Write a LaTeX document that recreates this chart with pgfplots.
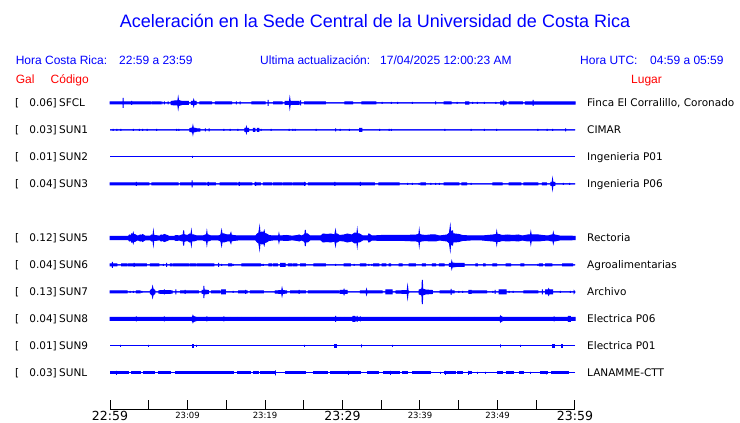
\documentclass[border=0pt]{standalone}
\usepackage{pgfplots}
\pgfplotsset{compat=1.18}
\usepgfplotslibrary{fillbetween}
\usepackage{pgfplotstable}
\usepackage{fontspec}
\setmainfont{Liberation Sans}
\newfontfamily\dv{DejaVu Sans}
\definecolor{sblue}{RGB}{0,0,255}
\definecolor{sred}{RGB}{255,0,0}

% time in minutes after 22:59, a = half amplitude of trace envelope (px)
\pgfplotstableread[row sep=\\]{t a\\ 0 0\\ 0 1\\ 1.7 1\\ 1.7 5\\ 1.7 1\\ 2.8 1\\ 2.8 2\\ 2.8 1\\ 5.2 1\\ 5.2 0\\
5.4 0\\ 5.4 1\\ 6.5 1\\ 6.5 0\\ 6.7 0\\ 6.7 1.5\\ 6.7 0\\ 7.0 0\\ 7.0 1.5\\ 7.0 0\\ 7.5 0\\ 7.5 1.5\\ 7.5 0\\
7.9 0\\ 7.9 1.5\\ 8.3 2\\ 8.75 2\\ 8.8 5\\ 8.85 2.5\\ 9.3 1.5\\ 10.1 1.5\\ 10.1 0\\ 10.5 0\\ 10.5 1.5\\ 10.75 1.5\\ 10.8 3\\ 10.85 1.5\\ 11.1 1.5\\ 11.1 0\\
11.6 0\\ 11.6 1\\ 13.1 1\\ 13.1 0\\ 13.6 0\\ 13.6 1\\ 15.7 1\\ 15.7 0\\ 16.3 0\\ 16.3 1.5\\ 16.3 0\\ 16.8 0\\ 16.8 1.5\\ 16.8 0\\
18.3 0\\ 18.3 1\\ 20.0 1\\ 20.0 0\\ 20.4 0\\ 20.4 3\\ 20.4 0\\ 21.1 0\\ 21.1 1\\ 22.2 1\\ 22.2 0\\
22.6 0\\ 22.6 1.5\\ 23.15 1.5\\ 23.2 4.5\\ 23.25 1.5\\ 24.4 1.5\\ 24.4 0\\ 24.6 0\\ 24.6 2.5\\ 24.6 0\\ 25.1 0\\ 25.1 1\\ 27.8 1\\ 27.8 0\\
30.3 0\\ 30.3 1\\ 31.3 1\\ 31.3 0\\ 32.5 0\\ 32.5 1\\ 34.3 1\\ 34.3 0\\
35.1 0\\ 35.1 1\\ 35.1 0\\ 36.3 0\\ 36.3 1\\ 36.3 0\\ 37.1 0\\ 37.1 1\\ 37.1 0\\ 39.0 0\\ 39.0 1\\ 39.0 0\\ 42.0 0\\ 42.0 1.5\\ 42.0 0\\
43.1 0\\ 43.1 1\\ 44.0 1\\ 44.0 0\\ 44.8 0\\ 44.8 1\\ 44.8 0\\ 45.9 0\\ 45.9 1.2\\ 46.3 1.2\\ 46.3 0\\ 46.8 0\\ 46.8 1\\ 46.8 0\\
47.4 0\\ 47.4 1\\ 47.4 0\\ 48.3 0\\ 48.3 1\\ 48.3 0\\ 49.8 0\\ 49.8 1\\ 49.8 0\\ 50.4 0\\ 50.4 1.2\\ 50.75 1.2\\ 50.8 2\\ 50.85 1.2\\ 51.1 1.2\\ 51.1 0\\
51.5 0\\ 51.5 1\\ 53.2 1\\ 53.2 0\\ 53.6 0\\ 53.6 1.2\\ 54.6 1.2\\ 54.6 3\\ 54.6 1.2\\ 60 1.2\\ 60 0\\}\sfcl

\pgfplotstableread[row sep=\\]{t a\\ 0 0\\ 0.4 0\\ 0.4 1\\ 0.4 0\\ 0.9 0\\ 0.9 1\\ 0.9 0\\ 1.4 0\\ 1.4 1\\ 1.4 0\\ 3.0 0\\ 3.0 1\\ 3.0 0\\
3.8 0\\ 3.8 1\\ 3.8 0\\ 4.2 0\\ 4.2 1\\ 4.2 0\\ 4.8 0\\ 4.8 1\\ 4.8 0\\ 6.0 0\\ 6.0 1\\ 6.0 0\\ 8.6 0\\ 8.6 1\\ 8.6 0\\ 8.9 0\\ 8.9 1\\ 8.9 0\\
10.3 0\\ 10.3 1.5\\ 10.65 2\\ 10.7 4\\ 10.75 2\\ 11.1 1.5\\ 11.1 0\\ 11.2 0\\ 11.2 1.2\\ 11.6 1.2\\ 11.6 0\\ 12.3 0\\ 12.3 1.5\\ 12.3 0\\
12.8 0\\ 12.8 1.5\\ 12.8 0\\ 14.7 0\\ 14.7 1\\ 14.7 0\\ 15.5 0\\ 15.5 1\\ 15.5 0\\ 16.5 0\\ 16.5 1\\ 16.5 0\\
17.4 0\\ 17.4 1.5\\ 17.55 1.5\\ 17.6 3\\ 17.65 1.5\\ 17.9 1.5\\ 17.9 0\\ 18.5 0\\ 18.5 1.5\\ 18.7 1.5\\ 18.7 0\\ 19.0 0\\ 19.0 1.5\\ 19.2 1.5\\ 19.2 0\\
19.5 0\\ 19.5 1\\ 19.5 0\\ 20.8 0\\ 20.8 1\\ 20.8 0\\ 23.1 0\\ 23.1 1\\ 23.1 0\\ 23.6 0\\ 23.6 1\\ 23.6 0\\ 23.9 0\\ 23.9 1\\ 23.9 0\\
26.6 0\\ 26.6 1\\ 26.6 0\\ 29.1 0\\ 29.1 1.5\\ 29.1 0\\ 29.7 0\\ 29.7 1\\ 29.7 0\\ 30.9 0\\ 30.9 1\\ 30.9 0\\ 32.2 0\\ 32.2 1.5\\ 32.5 1.5\\ 32.5 0\\
34.8 0\\ 34.8 1\\ 34.8 0\\ 36.0 0\\ 36.0 1\\ 36.0 0\\ 36.3 0\\ 36.3 1\\ 36.3 0\\ 43.2 0\\ 43.2 1\\ 43.2 0\\ 46.6 0\\ 46.6 1\\ 46.6 0\\
48.3 0\\ 48.3 1\\ 48.3 0\\ 49.9 0\\ 49.9 1\\ 49.9 0\\ 55.2 0\\ 55.2 1\\ 55.2 0\\ 56.4 0\\ 56.4 1\\ 56.4 0\\ 57.1 0\\ 57.1 1\\ 57.1 0\\
58.8 0\\ 58.8 1.5\\ 58.8 0\\ 60 0\\}\sunone

\pgfplotstableread[row sep=\\]{t a\\ 0 0\\ 10.6 0\\ 10.6 1\\ 10.6 0\\ 60 0\\}\suntwo

\pgfplotstableread[row sep=\\]{t a\\ 0 0\\ 0 1\\ 3.4 1\\ 3.4 2\\ 3.4 1\\ 5.0 1\\ 5.0 0\\ 5.4 0\\ 5.4 1\\ 8.8 1\\ 8.8 0\\ 9.1 0\\ 9.1 1\\ 10.6 1\\ 10.6 3.5\\ 10.6 1\\
12.3 1\\ 12.3 0\\ 12.5 0\\ 12.5 1\\ 12.7 1\\ 12.7 2\\ 12.7 1\\ 13.6 1\\ 13.6 0\\ 14.2 0\\ 14.2 1\\ 16.4 1\\ 16.4 0\\ 16.6 0\\ 16.6 1\\ 16.7 1\\ 16.7 2\\ 16.7 1\\
18.3 1\\ 18.3 0\\ 18.7 0\\ 18.7 1\\ 18.8 1\\ 18.8 2\\ 18.8 1\\ 19.4 1\\ 19.4 0\\ 19.8 0\\ 19.8 1\\ 20.9 1\\ 20.9 0\\ 21.1 0\\ 21.1 1\\ 22.2 1\\ 22.2 0\\
22.4 0\\ 22.4 1\\ 23.5 1\\ 23.5 0\\ 23.7 0\\ 23.7 1\\ 25.1 1\\ 25.1 2\\ 25.1 1\\ 25.2 1\\ 25.2 0\\ 25.6 0\\ 25.6 1\\ 29.0 1\\ 29.0 2\\ 29.0 1\\
32.1 1\\ 32.1 0\\ 32.2 0\\ 32.2 1\\ 32.3 1\\ 32.3 2\\ 32.3 1\\ 34.1 1\\ 34.1 0\\ 34.7 0\\ 34.7 1\\ 37.3 1\\ 37.3 0\\ 38.4 0\\ 38.4 1\\ 38.4 0\\
39.0 0\\ 39.0 1\\ 39.0 0\\ 39.9 0\\ 39.9 1\\ 39.9 0\\ 40.1 0\\ 40.1 1\\ 40.7 1\\ 40.7 0\\ 41.4 0\\ 41.4 1\\ 41.4 0\\ 42.0 0\\ 42.0 1\\ 42.0 0\\
42.5 0\\ 42.5 1\\ 42.5 0\\ 43.1 0\\ 43.1 1\\ 45.0 1\\ 45.0 0\\ 45.4 0\\ 45.4 1\\ 46.0 1\\ 46.0 0\\ 46.6 0\\ 46.6 1\\ 46.6 0\\
49.4 0\\ 49.4 1\\ 50.6 1\\ 50.6 0\\ 51.5 0\\ 51.5 1\\ 53.0 1\\ 53.0 0\\ 53.4 0\\ 53.4 1\\ 55.2 1\\ 55.2 0\\ 55.8 0\\ 55.8 1\\ 56.3 1\\ 56.3 0\\
56.9 0\\ 56.9 1.5\\ 57.05 1.5\\ 57.1 4.5\\ 57.15 1.5\\ 57.4 1.5\\ 57.4 0\\ 58.5 0\\ 58.5 1\\ 58.5 0\\ 59.3 0\\ 59.3 1\\ 59.3 0\\ 60 0\\}\sunthree

\pgfplotstableread[row sep=\\]{t a\\ 0 0\\ 0 1.7\\ 2.4 1.7\\ 2.5 3\\ 2.7 2.5\\ 2.8 4\\ 2.9 3\\ 3.0 5\\ 3.05 3\\ 3.2 3.5\\ 3.4 2.5\\ 3.6 1.8\\ 3.9 3\\ 4.1 2.5\\ 4.2 3.5\\ 4.5 2\\
5.2 1.8\\ 5.4 3\\ 5.55 2.5\\ 5.6 6\\ 5.65 2.5\\ 5.8 2.5\\ 6.4 1.8\\ 6.6 3\\ 6.8 2.5\\ 7.0 3.5\\ 7.4 2.5\\ 7.6 1.7\\ 8.3 1.7\\ 8.5 2.5\\ 9.0 2\\ 9.3 3\\
9.45 3\\ 9.5 7.5\\ 9.55 3.5\\ 9.7 3\\ 10.0 2.5\\ 10.3 4\\ 10.45 3.5\\ 10.5 6.5\\ 10.55 3\\ 10.8 3\\ 11.2 2\\ 12.0 2\\ 12.3 3\\ 12.45 3\\ 12.5 6\\ 12.55 3\\
12.7 3\\ 13.0 2\\ 14.0 2\\ 14.3 3\\ 14.4 7\\ 14.45 4\\ 14.7 4\\ 15.1 3\\ 15.5 3\\ 15.6 5\\ 15.65 3\\ 15.9 2.5\\ 16.5 2\\ 18.8 2\\ 19.0 4\\ 19.2 5\\
19.3 10\\ 19.35 5\\ 19.6 6\\ 19.8 5\\ 19.9 7\\ 19.95 4.5\\ 20.2 4\\ 20.5 2.5\\ 21.0 2\\ 21.75 2\\ 21.8 4\\ 21.85 2\\ 22.8 2.5\\ 23.5 1.8\\
24.2 2.5\\ 24.4 3\\ 24.7 2\\ 25.0 3\\ 25.15 4\\ 25.2 8\\ 25.25 4\\ 25.5 4\\ 25.8 2\\ 27.2 2\\ 27.5 4\\ 28.0 3.5\\ 28.5 4\\ 29.0 3\\ 29.1 7\\ 29.15 3.5\\
29.3 4\\ 29.6 2.5\\ 30.2 3\\ 30.6 4\\ 31.2 3\\ 31.6 5\\ 31.85 4\\ 31.9 7.5\\ 31.95 4\\ 32.2 4\\ 32.6 2\\ 33.3 2\\ 33.4 4\\ 33.8 2\\ 35.0 2.5\\ 38.0 2.5\\
39.5 3\\ 39.85 3.5\\ 39.9 7\\ 39.95 3.5\\ 40.2 3\\ 40.7 2.5\\ 41.3 3\\ 42.0 3\\ 42.5 2\\ 43.5 3\\ 43.8 5\\ 43.9 11\\ 43.95 6\\ 44.2 7\\ 44.25 4\\
44.5 4\\ 45.0 3.5\\ 45.5 2.5\\ 46.5 2\\ 48.0 2\\ 49.4 3\\ 49.85 3.5\\ 49.9 6\\ 49.95 3.5\\ 50.2 3.5\\ 50.6 2.5\\ 51.3 3\\ 52.0 2.5\\ 52.7 3\\ 53.2 2\\
53.9 3\\ 54.25 3\\ 54.3 5.5\\ 54.35 3\\ 54.6 3\\ 55.3 3\\ 55.8 2.5\\ 56.5 2\\ 57.0 3\\ 57.15 3\\ 57.2 5\\ 57.25 3\\ 57.4 3\\ 58.0 2\\ 60 1.7\\ 60 0\\}\sunfive

\pgfplotstableread[row sep=\\]{t a\\ 0 0\\ 0 1\\ 0.3 1\\ 0.3 3\\ 0.3 1\\ 0.9 1\\ 0.9 0\\ 1.5 0\\ 1.5 1\\ 2.2 1\\ 2.2 0\\ 2.4 0\\ 2.4 1\\ 3.1 1\\ 3.1 2\\ 3.1 1\\
4.7 1\\ 4.7 0\\ 5.2 0\\ 5.2 1\\ 6.3 1\\ 6.3 0\\ 6.9 0\\ 6.9 1\\ 6.9 0\\ 7.3 0\\ 7.3 2\\ 7.3 0\\ 7.8 0\\ 7.8 1\\ 8.0 1\\ 8.0 0\\ 8.2 0\\ 8.2 1\\
10.1 1\\ 10.1 0\\ 10.3 0\\ 10.3 1\\ 11.0 1\\ 11.0 0\\ 11.2 0\\ 11.2 1\\ 13.4 1\\ 13.4 0\\ 14.0 0\\ 14.0 2\\ 14.0 0\\ 14.4 0\\ 14.4 1\\ 14.4 0\\
15.3 0\\ 15.3 1\\ 15.7 1\\ 15.7 0\\ 15.9 0\\ 15.9 1\\ 15.9 0\\ 17.0 0\\ 17.0 1\\ 19.4 1\\ 19.4 0\\ 19.6 0\\ 19.6 1\\ 19.6 0\\ 19.8 0\\ 19.8 1\\ 19.8 0\\
20.5 0\\ 20.5 1\\ 20.9 1\\ 20.9 0\\ 21.1 0\\ 21.1 1\\ 21.6 1\\ 21.6 0\\ 22.0 0\\ 22.0 1.5\\ 22.6 1.5\\ 22.6 0\\ 23.0 0\\ 23.0 1\\ 23.5 1\\ 23.5 0\\
23.7 0\\ 23.7 1\\ 24.1 1\\ 24.1 0\\ 24.6 0\\ 24.6 1\\ 25.2 1\\ 25.2 0\\ 26.3 0\\ 26.3 1\\ 27.8 1\\ 27.8 0\\ 29.1 0\\ 29.1 1\\ 29.1 0\\
30.2 0\\ 30.2 1\\ 31.0 1\\ 31.0 0\\ 31.5 0\\ 31.5 1\\ 31.5 0\\ 32.3 0\\ 32.3 1\\ 33.0 1\\ 33.0 0\\ 33.4 0\\ 33.4 1\\ 33.4 0\\ 33.8 0\\ 33.8 1\\ 33.8 0\\
34.0 0\\ 34.0 1\\ 34.7 1\\ 34.7 0\\ 35.1 0\\ 35.1 1\\ 35.6 1\\ 35.6 0\\ 36.0 0\\ 36.0 1\\ 36.2 1\\ 36.2 0\\ 37.3 0\\ 37.3 1\\ 37.7 1\\ 37.7 0\\
38.6 0\\ 38.6 1\\ 39.4 1\\ 39.4 0\\ 40.3 0\\ 40.3 1\\ 40.7 1\\ 40.7 0\\ 41.6 0\\ 41.6 1\\ 42.0 1\\ 42.0 0\\ 42.5 0\\ 42.5 1\\ 43.1 1\\ 43.1 0\\
43.8 0\\ 43.8 1.5\\ 44.05 1.5\\ 44.1 3.5\\ 44.15 2\\ 44.7 1.5\\ 45.7 1.5\\ 45.7 0\\ 47.2 0\\ 47.2 1\\ 47.4 1\\ 47.4 0\\ 48.2 0\\ 48.2 1\\ 48.4 1\\ 48.4 0\\
49.4 0\\ 49.4 1\\ 49.9 1\\ 49.9 0\\ 51.1 0\\ 51.1 1\\ 51.7 1\\ 51.7 0\\ 53.0 0\\ 53.0 1\\ 53.4 1\\ 53.4 0\\ 55.2 0\\ 55.2 1\\ 55.2 0\\
55.4 0\\ 55.4 1\\ 55.8 1\\ 55.8 0\\ 56.2 0\\ 56.2 1\\ 57.0 1\\ 57.0 0\\ 58.4 0\\ 58.4 1\\ 59.7 1\\ 59.7 0\\ 60 0\\}\sunsix

\pgfplotstableread[row sep=\\]{t a\\ 0 0\\ 0 1\\ 2.2 1\\ 2.2 0\\ 2.6 0\\ 2.6 1\\ 2.6 0\\ 3.0 0\\ 3.0 1\\ 3.0 0\\ 3.4 0\\ 3.4 1\\ 3.9 1\\ 3.9 0\\ 4.1 0\\ 4.1 1\\ 4.1 0\\
5.2 0\\ 5.2 1.5\\ 5.45 3\\ 5.5 5\\ 5.55 3\\ 5.8 1.5\\ 5.8 0\\ 6.3 0\\ 6.3 1.2\\ 7.0 1.5\\ 7.0 2.5\\ 7.0 1.5\\ 8.0 1.2\\ 8.0 0\\ 8.5 0\\ 8.5 2.5\\ 8.5 0\\
9.1 0\\ 9.1 1\\ 9.7 1\\ 9.7 2\\ 9.7 1\\ 11.4 1\\ 11.4 0\\ 11.9 0\\ 11.9 1.5\\ 12.1 1.5\\ 12.1 6\\ 12.15 2\\ 12.7 1.5\\ 12.7 0\\ 13.1 0\\ 13.1 1\\ 14.2 1\\ 14.2 0\\
14.4 0\\ 14.4 2\\ 14.9 2\\ 14.9 0\\ 15.9 0\\ 15.9 1\\ 15.9 0\\ 16.6 0\\ 16.6 1\\ 17.5 1\\ 17.5 2\\ 17.5 1\\ 17.7 1\\ 17.7 0\\ 18.1 0\\ 18.1 1\\ 19.8 1\\ 19.8 0\\
21.3 0\\ 21.3 1\\ 22.15 1.5\\ 22.2 3.5\\ 22.25 1.5\\ 22.8 1\\ 22.8 0\\ 23.3 0\\ 23.3 1\\ 24.4 1\\ 24.4 2\\ 24.4 1\\ 25.2 1\\ 25.2 0\\
25.6 0\\ 25.6 1\\ 29.5 1\\ 29.5 0\\ 29.7 0\\ 29.7 1.5\\ 30.15 1.5\\ 30.2 2.5\\ 30.25 1.5\\ 30.6 1.5\\ 30.6 0\\ 32.3 0\\ 32.3 1\\ 33.05 1\\ 33.1 2.5\\ 33.15 1\\ 35.1 1\\ 35.1 0\\
35.6 0\\ 35.6 2\\ 36.4 2\\ 36.4 0\\ 36.9 0\\ 36.9 1\\ 38.35 1.5\\ 38.4 5\\ 38.45 1.5\\ 38.6 0\\ 39.9 0\\ 39.9 2\\ 40.25 3\\ 40.3 12\\ 40.35 3\\
40.7 2\\ 41.6 1.5\\ 41.6 0\\ 42.6 0\\ 42.6 1\\ 44.0 1\\ 44.0 3\\ 44.0 1\\ 44.4 1\\ 44.4 0\\ 45.0 0\\ 45.0 1\\ 45.0 0\\ 45.5 0\\ 45.5 1\\ 45.5 0\\
46.3 0\\ 46.3 1.5\\ 46.6 1.5\\ 46.6 2\\ 46.6 1\\ 48.6 1\\ 48.6 0\\ 49.4 0\\ 49.4 1\\ 49.4 0\\ 49.7 0\\ 49.7 2\\ 49.7 0\\ 50.2 0\\ 50.2 2\\ 51.1 2\\ 51.1 0\\
51.5 0\\ 51.5 1\\ 51.5 0\\ 52.0 0\\ 52.0 1\\ 52.0 0\\ 53.4 0\\ 53.4 1\\ 55.2 1\\ 55.2 0\\ 55.8 0\\ 55.8 2.5\\ 55.8 0\\ 56.2 0\\ 56.2 2\\ 56.55 2\\ 56.6 3\\ 56.65 2\\
57.1 2\\ 57.1 0\\ 58.1 0\\ 58.1 1\\ 58.1 0\\ 59.4 0\\ 59.4 1\\ 59.4 0\\ 59.9 0\\ 59.9 1\\ 60 0\\}\sunseven

\pgfplotstableread[row sep=\\]{t a\\ 0 0\\ 0 1.5\\ 3.4 1.5\\ 3.4 2.5\\ 3.4 1.5\\ 5.4 1.5\\ 5.4 2\\ 5.4 1.5\\ 7.0 1.5\\ 7.0 2.5\\ 7.0 1.5\\ 8.1 1.5\\ 8.1 2\\ 8.1 1.5\\
10.5 1.5\\ 10.65 2\\ 10.7 3.3\\ 10.75 2.5\\ 11.2 1.5\\ 12.5 1.5\\ 12.5 2.5\\ 12.5 1.5\\ 14.7 1.5\\ 14.7 2.5\\ 14.7 1.5\\ 15.6 1.5\\ 15.6 2\\ 15.6 1.5\\
16.4 1.5\\ 16.4 2\\ 16.4 1.5\\ 17.0 1.5\\ 17.0 2\\ 17.0 1.5\\ 18.8 1.5\\ 18.8 2\\ 18.8 1.5\\ 23.2 1.5\\ 23.2 2\\ 23.2 1.5\\ 25.1 1.5\\ 25.1 2\\ 25.1 1.5\\
29.1 1.5\\ 29.1 3\\ 29.1 1.5\\ 29.7 1.5\\ 29.7 2\\ 29.7 1.5\\ 30.2 1.5\\ 30.2 2\\ 30.2 1.5\\ 31.3 1.5\\ 31.35 2.5\\ 31.6 2.5\\ 31.65 1.5\\
31.9 1.5\\ 31.9 3\\ 31.9 1.5\\ 32.3 1.5\\ 32.3 2.5\\ 32.3 1.5\\ 35.2 1.5\\ 35.2 2\\ 35.2 1.5\\ 42.5 1.5\\ 42.5 2\\ 42.5 1.5\\ 43.9 1.5\\ 43.9 2\\ 43.9 1.5\\
45.0 1.5\\ 45.0 2\\ 45.0 1.5\\ 47.0 1.5\\ 47.0 2\\ 47.0 1.5\\ 50.3 1.5\\ 50.35 2\\ 50.4 3\\ 50.45 2.5\\ 50.7 1.5\\ 57.3 1.5\\ 57.3 2.5\\ 57.3 1.5\\
58.2 1.5\\ 58.2 2\\ 58.2 1.5\\ 59.1 1.5\\ 59.15 2.5\\ 59.4 2.5\\ 59.45 1.5\\ 60 1.5\\ 60 0\\}\suneight

\pgfplotstableread[row sep=\\]{t a\\ 0 0\\ 1.4 0\\ 1.4 1\\ 1.4 0\\ 5.0 0\\ 5.0 1\\ 5.0 0\\ 10.6 0\\ 10.6 1.5\\ 10.8 1.5\\ 10.8 0\\ 11.2 0\\ 11.2 1\\ 11.2 0\\
25.1 0\\ 25.1 1\\ 25.1 0\\ 29.0 0\\ 29.0 1.5\\ 29.2 1.5\\ 29.2 0\\ 32.4 0\\ 32.4 1.5\\ 32.4 0\\ 36.4 0\\ 36.4 1\\ 36.4 0\\ 50.4 0\\ 50.4 1.5\\ 50.4 0\\
53.0 0\\ 53.0 1\\ 53.0 0\\ 57.1 0\\ 57.1 1.5\\ 57.3 1.5\\ 57.3 0\\ 58.2 0\\ 58.2 1.5\\ 58.4 1.5\\ 58.4 0\\ 60 0\\}\sunnine

\pgfplotstableread[row sep=\\]{t a\\ 0 0\\ 0 1\\ 0.9 1\\ 0.9 2\\ 0.9 1\\ 2.4 1\\ 2.4 0\\ 2.8 0\\ 2.8 1\\ 3.9 1\\ 3.9 0\\ 4.3 0\\ 4.3 1\\ 5.8 1\\ 5.8 0\\
6.3 0\\ 6.3 1\\ 7.8 1\\ 7.8 0\\ 8.4 0\\ 8.4 1\\ 9.3 1\\ 9.3 0\\ 9.5 0\\ 9.5 1\\ 11.4 1\\ 11.4 0\\ 11.6 0\\ 11.6 1\\ 13.6 1\\ 13.6 0\\ 13.8 0\\ 13.8 1\\
15.9 1\\ 15.9 0\\ 16.4 0\\ 16.4 1\\ 18.1 1\\ 18.1 0\\ 18.5 0\\ 18.5 1\\ 19.2 1\\ 19.2 0\\ 19.4 0\\ 19.4 1\\ 21.3 1\\ 21.3 2.5\\ 21.3 1\\ 21.4 1\\ 21.4 0\\
22.6 0\\ 22.6 1\\ 25.2 1\\ 25.2 0\\ 26.3 0\\ 26.3 1\\ 28.0 1\\ 28.0 0\\ 28.4 0\\ 28.4 1\\ 30.8 1\\ 30.8 2\\ 30.8 1\\ 32.3 1\\ 32.3 0\\
33.2 0\\ 33.2 1\\ 34.7 1\\ 34.7 0\\ 35.3 0\\ 35.3 1\\ 36.2 1\\ 36.2 2\\ 36.2 1\\ 37.3 1\\ 37.3 0\\ 37.7 0\\ 37.7 1\\ 38.4 1\\ 38.4 0\\
39.0 0\\ 39.0 1\\ 41.4 1\\ 41.4 0\\ 42.7 0\\ 42.7 1\\ 42.7 0\\ 43.1 0\\ 43.1 1\\ 43.3 1\\ 43.3 2\\ 43.3 1\\ 43.8 1\\ 43.8 0\\ 43.9 0\\ 43.9 1\\ 44.6 1\\ 44.6 0\\
44.8 0\\ 44.8 1\\ 45.5 1\\ 45.5 0\\ 46.2 0\\ 46.2 1\\ 46.3 1\\ 46.3 2\\ 46.3 1\\ 46.6 1\\ 46.6 0\\ 47.4 0\\ 47.4 1\\ 47.4 0\\ 48.4 0\\ 48.4 1\\ 48.4 0\\
50.0 0\\ 50.0 1\\ 50.6 1\\ 50.6 0\\ 51.1 0\\ 51.1 1\\ 52.0 1\\ 52.0 0\\ 52.8 0\\ 52.8 1\\ 53.4 1\\ 53.4 0\\ 54.3 0\\ 54.3 1\\ 54.3 0\\
55.6 0\\ 55.6 1\\ 56.3 1\\ 56.3 1.5\\ 56.3 1\\ 56.5 1\\ 56.5 0\\ 57.0 0\\ 57.0 1\\ 58.7 1\\ 58.7 0\\ 58.8 0\\ 58.8 1\\ 59.1 1\\ 59.1 0\\ 60 0\\}\sunl

\newcommand\trace[3]{%
  \addplot[sblue, line width=1bp, name path=u#3] table[x=t, y expr={#2-\thisrow{a}}] {#1};
  \addplot[sblue, line width=1bp, name path=l#3] table[x=t, y expr={#2+\thisrow{a}}] {#1};
  \addplot[sblue] fill between[of=u#3 and l#3];
}

\begin{document}
\begin{tikzpicture}
\begin{axis}[
  at={(0,0)}, anchor=south west,
  width=740bp, height=423bp, scale only axis,
  xmin=-14.19355, xmax=81.29032,
  ymin=0, ymax=423, y dir=reverse,
  hide axis, clip=false,
]
\trace{\sfcl}{103}{a}
\trace{\sunone}{130}{b}
\trace{\suntwo}{157}{c}
\trace{\sunthree}{184}{d}
\trace{\sunfive}{238}{e}
\trace{\sunsix}{265}{f}
\trace{\sunseven}{292}{g}
\trace{\suneight}{319}{h}
\trace{\sunnine}{346}{i}
\trace{\sunl}{373}{j}
\end{axis}

\begin{axis}[
  at={(110bp,14bp)}, anchor=south west,
  width=465bp, height=9bp, scale only axis,
  xmin=0, xmax=60, ymin=0, ymax=1,
  axis x line*=bottom, axis y line=none,
  x axis line style={-, line width=1bp},
  xtick={0,5,...,60},
  tick align=inside, major tick length=9bp,
  tick style={black, line width=1bp},
  xticklabel style={font=\dv, inner sep=0pt, yshift=-2.5bp},
  xticklabels={{\fontsize{12.5bp}{13bp}\selectfont 22:59},{},{\fontsize{8.5bp}{9bp}\selectfont 23:09},{},{\fontsize{8.5bp}{9bp}\selectfont 23:19},{},{\fontsize{12.5bp}{13bp}\selectfont 23:29},{},{\fontsize{8.5bp}{9bp}\selectfont 23:39},{},{\fontsize{8.5bp}{9bp}\selectfont 23:49},{},{\fontsize{12.5bp}{13bp}\selectfont 23:59}},
]
\addplot[draw=none] coordinates {(0,0) (60,0)};
\end{axis}

\begin{scope}[x=1bp, y=-1bp, shift={(0,423bp)}]
\node[anchor=base, inner sep=0, text=sblue, font=\fontsize{18bp}{20bp}\selectfont] at (375,27.5) {Aceleración en la Sede Central de la Universidad de Costa Rica};
\begin{scope}[every node/.style={anchor=base west, inner sep=0, text=sblue, font=\fontsize{12bp}{14bp}\selectfont}]
\node at (15.6,64.3) {Hora Costa Rica:};
\node at (119,64.3) {22:59 a 23:59};
\node at (260,64.3) {Ultima actualización:};
\node at (380,64.3) {17/04/2025 12:00:23 AM};
\node at (580,64.3) {Hora UTC:};
\node at (650,64.3) {04:59 a 05:59};
\node[text=sred] at (15.6,83.5) {Gal};
\node[text=sred] at (50.5,83.5) {Código};
\node[text=sred] at (631,83.5) {Lugar};
\end{scope}
\begin{scope}[every node/.style={inner sep=0, text=black, font=\dv\fontsize{10.5bp}{12bp}\selectfont}]
\foreach \yy/\gal/\code/\lugar in {103/0.06/SFCL/{Finca El Corralillo, Coronado}, 130/0.03/SUN1/CIMAR, 157/0.01/SUN2/Ingenieria P01, 184/0.04/SUN3/Ingenieria P06, 238/0.12/SUN5/Rectoria, 265/0.04/SUN6/Agroalimentarias, 292/0.13/SUN7/Archivo, 319/0.04/SUN8/Electrica P06, 346/0.01/SUN9/Electrica P01, 373/0.03/SUNL/LANAMME-CTT}{
  \node[anchor=base west] at (15,\yy+3.8) {[};
  \node[anchor=base east] at (57,\yy+3.8) {\gal]};
  \node[anchor=base west] at (59,\yy+3.8) {\code};
  \node[anchor=base west] at (587,\yy+3.8) {\lugar};
}
\end{scope}
\end{scope}
\pgfresetboundingbox
\path[use as bounding box] (0,0) rectangle (740bp,423bp);
\end{tikzpicture}
\end{document}
